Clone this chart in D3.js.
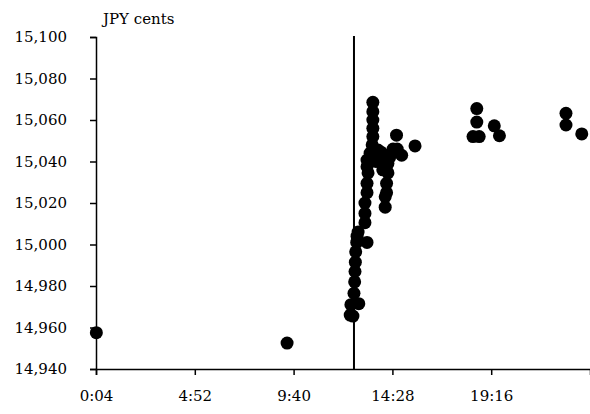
<!DOCTYPE html>
<html>
<head>
<meta charset="utf-8">
<script src="https://cdn.jsdelivr.net/npm/d3@7"></script>
<style>
  body { margin: 0; background: #fff; }
  text { font-family: "DejaVu Serif", serif; font-size: 15px; fill: #000; }
</style>
</head>
<body>
<script>
// Trade times (H:MM) and prices in JPY cents
const times = [
  "0:05", "9:21",
  "12:25", "12:33", "12:27", "12:50", "12:36", "12:38", "12:39", "12:40",
  "12:41", "12:44", "13:14", "12:45", "12:48", "13:08", "13:08", "13:08",
  "13:14", "13:14", "13:17", "13:14", "13:14", "13:23", "13:29", "13:31",
  "13:31", "13:31", "13:31", "13:31",
  "13:40", "13:46", "13:45", "13:50", "13:52", "13:55", "14:00", "14:03",
  "14:07", "14:07", "14:11", "14:11",
  "14:15", "14:15", "14:20", "14:26", "14:30", "14:40", "14:42", "14:55",
  "15:34",
  "18:23", "18:41", "18:34", "18:34", "19:25", "19:40", "22:54", "22:54",
  "23:40"
];
const prices = [
  14957.5, 14952.5,
  14966, 14965.5, 14971, 14971.5, 14976.5, 14982, 14987, 14991.5,
  14996.5, 15001, 15001, 15004, 15006, 15010.5, 15015, 15020,
  15025, 15029.5, 15034.5, 15037.5, 15040.7, 15044, 15048, 15052,
  15056, 15060, 15064, 15068.5,
  15040, 15045.5, 15045, 15040, 15041, 15044.5, 15036, 15043,
  15018, 15023, 15025, 15029.5,
  15034.5, 15039, 15042, 15044, 15046, 15052.7, 15046, 15043,
  15047.5,
  15052, 15052, 15059, 15065.5, 15057.2, 15052.4, 15063.2, 15057.6,
  15053.3
];
const xTickLabels = ["0:04", "4:52", "9:40", "14:28", "19:16"];
const yTicks = d3.range(14940, 15101, 20);
const eventTime = "12:36";
const xDomain = ["0:04", "24:04"];

function toMin(s) {
  const p = s.split(":");
  return +p[0] * 60 + +p[1];
}
function fmtMin(m) {
  const h = Math.floor(m / 60), mm = m % 60;
  return h + ":" + (mm < 10 ? "0" : "") + mm;
}

const data = times.map(function (t, i) {
  return { t: toMin(t), v: prices[i] };
});

const width = 590, height = 414;
const margin = { top: 37, right: 0, bottom: 45, left: 96 };

const svg = d3.select("body").append("svg")
  .attr("width", width)
  .attr("height", height);

const x = d3.scaleLinear()
  .domain(xDomain.map(toMin))
  .range([margin.left, width - margin.right]);
const y = d3.scaleLinear()
  .domain([14940, 15100])
  .range([height - margin.bottom, margin.top]);

// Y axis
const yAxis = svg.append("g")
  .attr("transform", "translate(" + margin.left + ",0)")
  .call(d3.axisLeft(y).tickValues(yTicks).tickFormat(d3.format(",")).tickSize(6).tickPadding(23));
yAxis.select(".domain").attr("stroke-width", 1.5);
yAxis.selectAll(".tick line").attr("stroke-width", 1.5);

// X axis
const xAxis = svg.append("g")
  .attr("transform", "translate(0," + (height - margin.bottom) + ")")
  .call(d3.axisBottom(x).tickValues(xTickLabels.map(toMin)).tickFormat(fmtMin).tickSize(6).tickPadding(15));
xAxis.select(".domain").attr("stroke-width", 1.5);
xAxis.selectAll(".tick line").attr("stroke-width", 1.5);

// let the CSS font apply to tick labels
svg.selectAll("g").attr("font-size", null).attr("font-family", null);

// Event line
svg.append("line")
  .attr("x1", x(toMin(eventTime)))
  .attr("x2", x(toMin(eventTime)))
  .attr("y1", y(15100) - 1)
  .attr("y2", y(14940))
  .attr("stroke", "#000")
  .attr("stroke-width", 2);

// Points
svg.selectAll("circle")
  .data(data)
  .enter()
  .append("circle")
  .attr("cx", function (d) { return x(d.t); })
  .attr("cy", function (d) { return y(d.v); })
  .attr("r", 6.5)
  .attr("fill", "#000");

// Unit label
svg.append("text")
  .attr("x", 103)
  .attr("y", 24)
  .text("JPY cents");
</script>
</body>
</html>
